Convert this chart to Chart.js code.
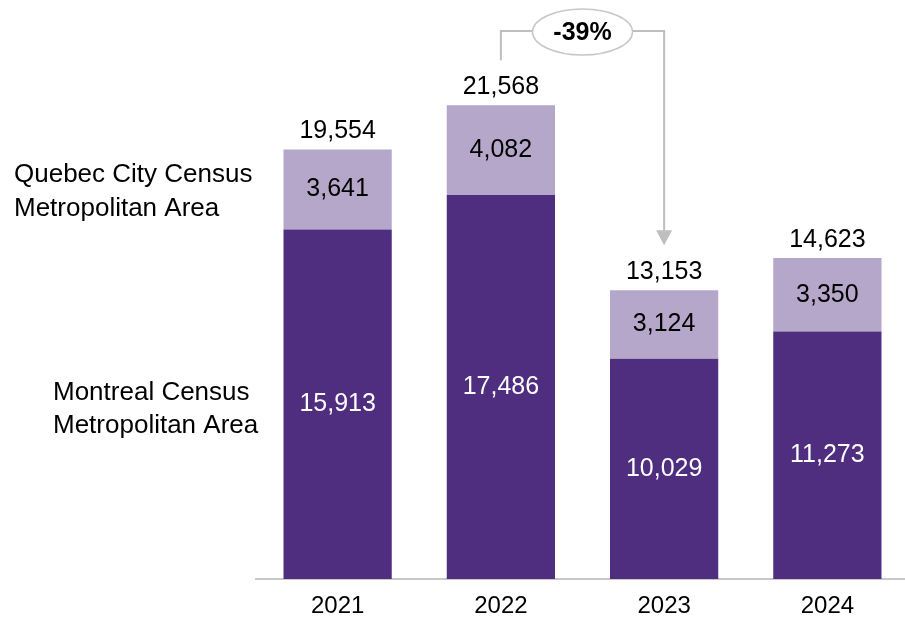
<!DOCTYPE html>
<html lang="en">
  <head>
    <meta charset="UTF-8" />
    <title>Census Metropolitan Areas</title>
    <script src="https://cdn.jsdelivr.net/npm/chart.js"></script>
    <style>
      html, body { margin: 0; padding: 0; background: #fff; overflow: hidden; }
      .wrap { position: relative; width: 909px; height: 618px; }
    </style>
  </head>
  <body>
    <div class="wrap"><canvas id="cmaChart"></canvas></div>
    <script>
      // Years along the bottom
      const years = ["2021", "2022", "2023", "2024"]
      // Stacked series, bottom first
      const montreal = [15913, 17486, 10029, 11273]
      const quebec = [3641, 4082, 3124, 3350]
      const seriesNames = [
        ["Montreal Census", "Metropolitan Area"],
        ["Quebec City Census", "Metropolitan Area"],
      ]
      // Change called out between two years
      const changeLabel = "-39%"
      const changeFrom = 1
      const changeTo = 2

      const FONT = "'Liberation Sans', Arial, sans-serif"
      const fmt = (v) => v.toLocaleString("en-US")

      // Writes the values on and above the bars, the years, the series names and the change bracket
      const labelsPlugin = {
        id: "barLabels",
        afterDatasetsDraw(chart) {
          const ctx = chart.ctx
          const m0 = chart.getDatasetMeta(0)
          const m1 = chart.getDatasetMeta(1)
          const bottom = chart.chartArea.bottom
          ctx.save()
          ctx.textAlign = "center"
          ctx.textBaseline = "middle"
          years.forEach((y, i) => {
            const b0 = m0.data[i]
            const b1 = m1.data[i]
            ctx.font = "25px " + FONT
            ctx.fillStyle = "#ffffff"
            ctx.fillText(fmt(montreal[i]), b0.x, (b0.y + b0.base) / 2)
            ctx.fillStyle = "#000000"
            ctx.fillText(fmt(quebec[i]), b1.x, (b1.y + b1.base) / 2)
            ctx.fillText(fmt(montreal[i] + quebec[i]), b1.x, b1.y - 18)
            ctx.font = "24px " + FONT
            ctx.fillText(y, b0.x, bottom + 27)
          })

          // series names beside the first column
          ctx.font = "26px " + FONT
          const drawName = (lines, bar, x, up, down) => {
            const mid = (bar.y + bar.base) / 2
            ctx.textAlign = "left"
            ctx.fillStyle = "#000"
            ctx.fillText(lines[0], x, mid - up)
            ctx.fillText(lines[1], x, mid + down)
          }
          drawName(seriesNames[1], m1.data[0], 14, 15, 19)
          drawName(seriesNames[0], m0.data[0], 53, 11, 22)

          // bracket with arrow from one total to the next
          const a = m1.data[changeFrom]
          const b = m1.data[changeTo]
          const topY = 31
          ctx.strokeStyle = "#bfbfbf"
          ctx.lineWidth = 2
          ctx.beginPath()
          ctx.moveTo(a.x, a.y - 45)
          ctx.lineTo(a.x, topY)
          ctx.lineTo(b.x, topY)
          ctx.lineTo(b.x, b.y - 58)
          ctx.stroke()
          ctx.fillStyle = "#bfbfbf"
          ctx.beginPath()
          ctx.moveTo(b.x - 8, b.y - 60)
          ctx.lineTo(b.x + 8, b.y - 60)
          ctx.lineTo(b.x, b.y - 45)
          ctx.closePath()
          ctx.fill()

          const cx = (a.x + b.x) / 2
          ctx.beginPath()
          ctx.ellipse(cx, topY + 1, 50, 23, 0, 0, Math.PI * 2)
          ctx.fillStyle = "#ffffff"
          ctx.fill()
          ctx.lineWidth = 1.5
          ctx.strokeStyle = "#c8c8c8"
          ctx.stroke()
          ctx.fillStyle = "#000"
          ctx.font = "bold 25px " + FONT
          ctx.textAlign = "center"
          ctx.fillText(changeLabel, cx, topY + 2)
          ctx.restore()
        },
      }

      new Chart(document.getElementById("cmaChart"), {
        type: "bar",
        data: {
          labels: years,
          datasets: [
            {
              label: seriesNames[0].join(" "),
              data: montreal,
              backgroundColor: "#4f2d7f",
            },
            {
              label: seriesNames[1].join(" "),
              data: quebec,
              backgroundColor: "#b5a7c9",
            },
          ],
        },
        options: {
          responsive: true,
          maintainAspectRatio: false,
          animation: false,
          categoryPercentage: 1,
          barPercentage: 0.663,
          layout: { padding: { left: 256, right: 0, top: 30, bottom: 39 } },
          plugins: { legend: { display: false }, tooltip: { enabled: false } },
          scales: {
            x: {
              stacked: true,
              grid: { display: false, drawTicks: false },
              border: { color: "#c8c8c8", width: 2 },
              ticks: { display: false },
            },
            y: {
              stacked: true,
              display: false,
              min: 0,
              max: 25000,
            },
          },
        },
        plugins: [labelsPlugin],
      })
    </script>
  </body>
</html>
